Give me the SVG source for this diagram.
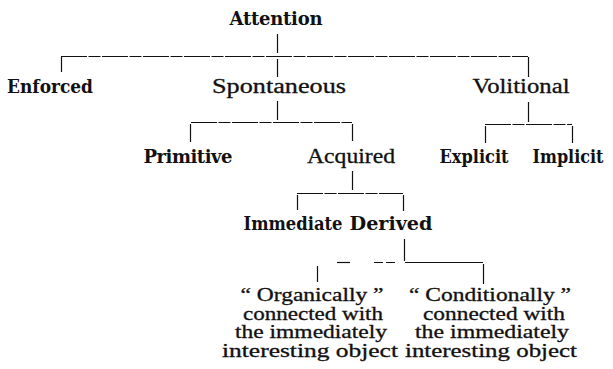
<svg xmlns="http://www.w3.org/2000/svg" width="613" height="369" viewBox="0 0 613 369">
<style>
text{font-family:"Liberation Serif","DejaVu Serif",serif;font-size:20px;fill:#111;text-anchor:middle;stroke:#111;stroke-width:0.3}
.b{font-family:"DejaVu Serif","Liberation Serif",serif;font-weight:bold;font-size:18px;stroke:none}
.s{font-size:18px}
.c line{stroke:#111;stroke-width:1.2;fill:none}
.c .d{stroke-dasharray:26 1.5 12 1.5}
</style>
<rect width="613" height="369" fill="#fff"/>
<g class="c" id="connectors">
<line x1="277.5" y1="34" x2="277.5" y2="53"/>
<line class="d" x1="61" y1="56.5" x2="528" y2="56.5"/>
<line x1="61.5" y1="57" x2="61.5" y2="72"/>
<line x1="277.5" y1="59" x2="277.5" y2="77"/>
<line x1="528.5" y1="57" x2="528.5" y2="77"/>
<line x1="277.5" y1="101" x2="277.5" y2="120"/>
<line class="d" x1="191" y1="122.5" x2="352" y2="122.5"/>
<line x1="190.5" y1="124" x2="190.5" y2="142"/>
<line x1="352.5" y1="124" x2="352.5" y2="141"/>
<line x1="528.5" y1="102" x2="528.5" y2="122"/>
<line class="d" x1="485" y1="124.5" x2="572" y2="124.5"/>
<line x1="485.5" y1="126" x2="485.5" y2="143"/>
<line x1="572.5" y1="126" x2="572.5" y2="143"/>
<line x1="352.5" y1="171" x2="352.5" y2="190"/>
<line class="d" x1="297" y1="193.5" x2="403" y2="193.5"/>
<line x1="297.5" y1="195" x2="297.5" y2="210"/>
<line x1="403.5" y1="195" x2="403.5" y2="211"/>
<line x1="404.5" y1="239" x2="404.5" y2="261"/>
<line x1="337" y1="262.5" x2="350" y2="262.5"/>
<line x1="374" y1="262.5" x2="396" y2="262.5" style="stroke-dasharray:9 3"/>
<line x1="405" y1="262.5" x2="483" y2="262.5"/>
<line x1="317.5" y1="266" x2="317.5" y2="282"/>
<line x1="483.5" y1="264" x2="483.5" y2="284"/>
</g>
<g id="attention"><text class="b" x="276" y="25" textLength="93">Attention</text></g>
<g id="enforced"><text class="b" x="50" y="93" textLength="86" lengthAdjust="spacingAndGlyphs">Enforced</text></g>
<g id="spontaneous"><text x="279" y="93" textLength="134" lengthAdjust="spacingAndGlyphs">Spontaneous</text></g>
<g id="volitional"><text x="521" y="93" textLength="97" lengthAdjust="spacingAndGlyphs">Volitional</text></g>
<g id="primitive"><text class="b" x="188" y="163" textLength="89">Primitive</text></g>
<g id="acquired"><text x="351" y="163" textLength="88" lengthAdjust="spacingAndGlyphs">Acquired</text></g>
<g id="explicit"><text class="b" x="474" y="163" textLength="69" lengthAdjust="spacingAndGlyphs">Explicit</text></g>
<g id="implicit"><text class="b" x="568" y="163" textLength="71" lengthAdjust="spacingAndGlyphs">Implicit</text></g>
<g id="immediate"><text class="b" x="293" y="230" textLength="99" lengthAdjust="spacingAndGlyphs">Immediate</text></g>
<g id="derived"><text class="b" x="391" y="230" textLength="83" lengthAdjust="spacingAndGlyphs">Derived</text></g>
<g id="organically">
<text class="s" x="312" y="301" textLength="143" lengthAdjust="spacingAndGlyphs">“ Organically ”</text>
<text class="s" x="313" y="320" textLength="140" lengthAdjust="spacingAndGlyphs">connected with</text>
<text class="s" x="311" y="338" textLength="152" lengthAdjust="spacingAndGlyphs">the immediately</text>
<text class="s" x="310" y="357" textLength="176" lengthAdjust="spacingAndGlyphs">interesting object</text>
</g>
<g id="conditionally">
<text class="s" x="490" y="301" textLength="162" lengthAdjust="spacingAndGlyphs">“ Conditionally ”</text>
<text class="s" x="494" y="320" textLength="142" lengthAdjust="spacingAndGlyphs">connected with</text>
<text class="s" x="492" y="338" textLength="154" lengthAdjust="spacingAndGlyphs">the immediately</text>
<text class="s" x="491" y="357" textLength="172" lengthAdjust="spacingAndGlyphs">interesting object</text>
</g>
</svg>
